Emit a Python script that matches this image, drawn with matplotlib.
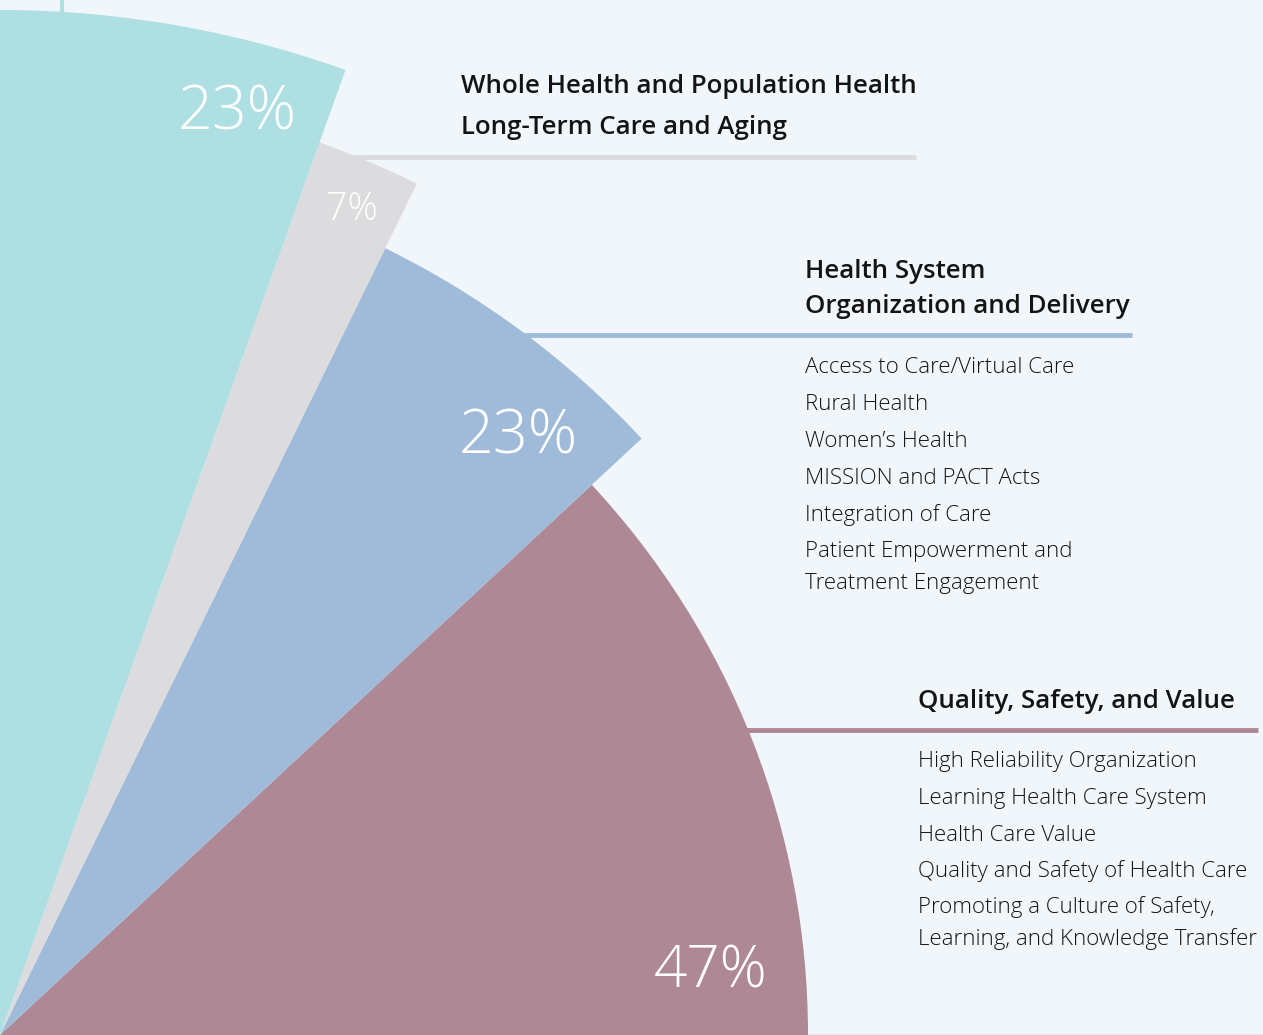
import matplotlib.pyplot as plt
from matplotlib.patches import Wedge

# shares of the fan, listed counter-clockwise from the bottom edge
labels = ["Quality, Safety, and Value", "Health System Organization and Delivery",
          "Long-Term Care and Aging", "Whole Health and Population Health"]
shares = [47, 23, 7, 23]
radii = [808, 876, 948, 1025]
colors = ["#ae8895", "#9fbbd9", "#dcdcdf", "#aedfe2"]

hsod_items = ["Access to Care/Virtual Care", "Rural Health", "Women\u2019s Health",
              "MISSION and PACT Acts", "Integration of Care",
              "Patient Empowerment and", "Treatment Engagement"]
qsv_items = ["High Reliability Organization", "Learning Health Care System",
             "Health Care Value", "Quality and Safety of Health Care",
             "Promoting a Culture of Safety,", "Learning, and Knowledge Transfer"]

W, H = 1263, 1035
SWEEP = 91.3          # fan runs slightly past vertical and is clipped at the left edge
BG = "#f1f6fa"
DARK = "#141414"
FONT = ["Open Sans", "DejaVu Sans"]

fig = plt.figure(figsize=(W / 100, H / 100), dpi=100, facecolor=BG)
ax = fig.add_axes([0, 0, 1, 1])
ax.set_xlim(0, W)
ax.set_ylim(0, H)
ax.set_aspect("equal")
ax.axis("off")
ax.set_facecolor(BG)

# ── leader lines (behind wedges) ────────────────────────────────────────────
ax.plot([62, 62], [H - 14, H], color=colors[3], lw=3, zorder=1, solid_capstyle="butt")
ax.plot([300, 916], [H - 157, H - 157], color="#dcdcdf", lw=3.5, zorder=1, solid_capstyle="butt")
ax.plot([400, 1132], [H - 335, H - 335], color=colors[1], lw=3.5, zorder=1, solid_capstyle="butt")
ax.plot([600, 1258], [H - 730, H - 730], color=colors[0], lw=3.5, zorder=1, solid_capstyle="butt")
ax.plot([0, W], [0.5, 0.5], color="#a8a8a8", lw=1.0, zorder=1)

# ── wedges ─────────────────────────────────────────────────────────────────
start = 0.0
for s, r, c in zip(shares, radii, colors):
    span = SWEEP * s / sum(shares)
    ax.add_patch(Wedge((0, 0), r, start, start + span, facecolor=c, edgecolor="none", zorder=2))
    start += span

# ── percentage labels (centre x, baseline y) ───────────────────────────────
pct_pos = [(711, H - 988), (518, H - 454), (352, H - 220), (237, H - 129)]
pct_size = [42, 44, 27, 44]
for s, (x, y), fs in zip(shares, pct_pos, pct_size):
    ax.text(x, y, f"{s}%", color="white", fontsize=fs, ha="center", va="baseline",
            family=FONT, fontweight="light", zorder=3)

# ── headings and item lists ────────────────────────────────────────────────
head_kw = dict(color=DARK, fontsize=18.6, fontweight="semibold", family=FONT,
               ha="left", va="baseline", zorder=3)
item_kw = dict(color=DARK, fontsize=16, fontweight="light", family=FONT,
               ha="left", va="baseline", zorder=3)

ax.text(461, H - 93, labels[3], **head_kw)
ax.text(461, H - 134, labels[2], **head_kw)

ax.text(805, H - 278, "Health System", **head_kw)
ax.text(805, H - 313, "Organization and Delivery", **head_kw)
hsod_base = [373, 410, 447, 484, 521, 557, 589]
for t, b in zip(hsod_items, hsod_base):
    ax.text(805, H - b, t, **item_kw)

ax.text(918, H - 708, labels[0], **head_kw)
qsv_base = [767, 804, 841, 877, 913, 945]
for t, b in zip(qsv_items, qsv_base):
    ax.text(918, H - b, t, **item_kw)

fig.savefig("out.png", dpi=100, facecolor=BG)
